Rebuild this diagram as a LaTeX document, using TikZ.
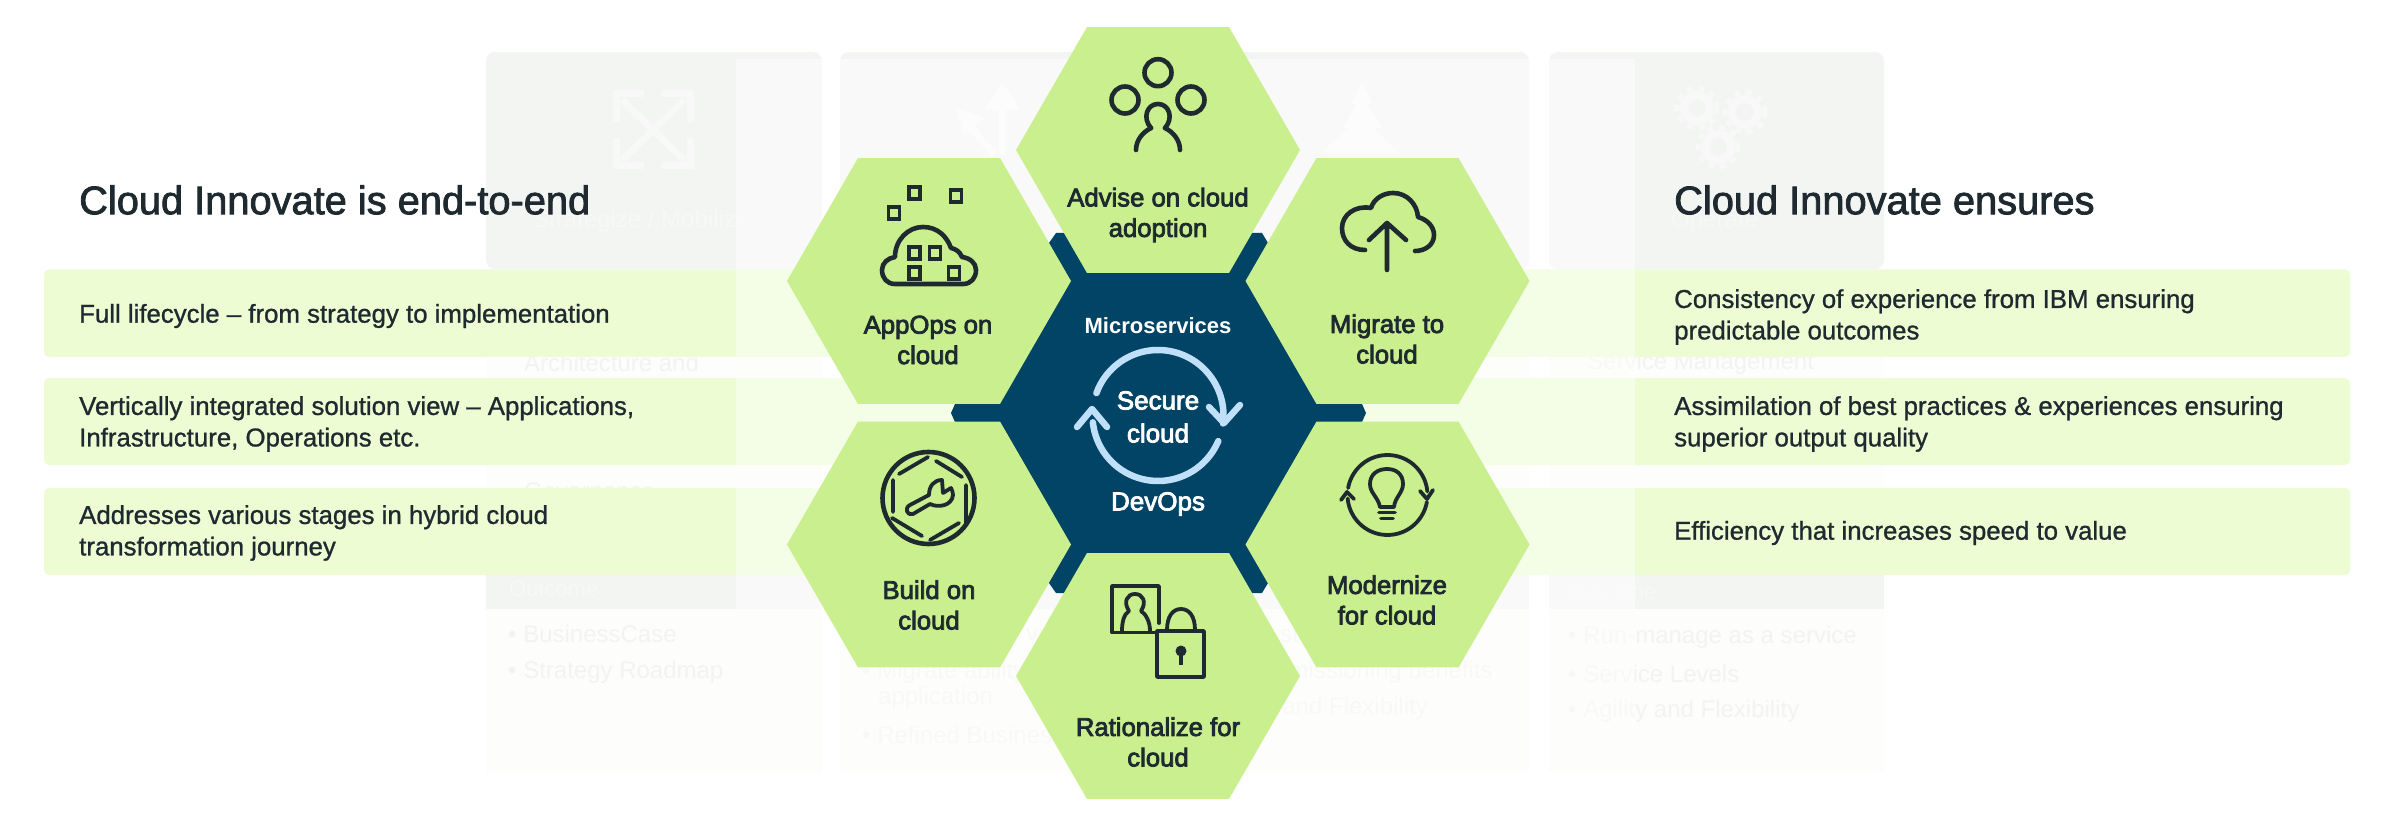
\documentclass[tikz,border=0pt]{standalone}
\usepackage{fontspec}
\usetikzlibrary{shapes.geometric}
\setmainfont{Liberation Sans}
\newfontfamily\medfont[FakeBold=3]{Liberation Sans}
\newfontfamily\titlefont[FakeBold=2]{Liberation Sans}
\newfontfamily\bodyfont[FakeBold=1]{Liberation Sans}
\definecolor{ink}{HTML}{1F2A30}
\definecolor{leaf}{HTML}{C9EF8E}
\definecolor{navy}{HTML}{014465}
\definecolor{sky}{HTML}{BFE0F8}
\definecolor{bandc}{HTML}{EDFCD3}
\definecolor{cardtop}{HTML}{F3F5F3}
\definecolor{cardlow}{HTML}{FDFEFB}
\definecolor{faintc}{HTML}{F3F4F2}
\definecolor{ghost}{HTML}{F7F8F7}
\definecolor{ghostmid}{HTML}{FAFBFA}
\tikzset{
  x=1pt,y=-1pt,
  hexa/.style={regular polygon,regular polygon sides=6,minimum size=284pt,inner sep=0pt,outer sep=0pt,fill=leaf},
  icon/.style={draw=ink,line width=4.6pt,line cap=round,line join=round},
  thinicon/.style={draw=ink,line width=3.8pt,line cap=round,line join=round},
  loopline/.style={draw=sky,line width=6.5pt,line cap=round,line join=round},
  hexlabel/.style={inner sep=0pt,align=center,text=ink,font=\medfont\fontsize{25.7}{30.5}\selectfont},
  corelabel/.style={inner sep=0pt,align=center,text=white,font=\medfont\fontsize{26}{33}\selectfont},
  title/.style={inner sep=0pt,anchor=west,text=ink,font=\titlefont\fontsize{39.8}{44}\selectfont},
  body/.style={inner sep=0pt,anchor=west,align=left,text=ink,font=\bodyfont\fontsize{25.8}{31.5}\selectfont},
  faint/.style={inner sep=0pt,anchor=west,align=left,text=faintc,font=\fontsize{24}{26}\selectfont},
  ghosttext/.style={inner sep=0pt,anchor=west,text=ghost,font=\fontsize{24}{26}\selectfont},
  ghostline/.style={draw=ghost,line width=7pt},
}
\begin{document}
\begin{tikzpicture}
\useasboundingbox (0,0) rectangle (2394,826);
\fill[white] (0,0) rectangle (2394,826);
% background cards
\foreach \xa/\xb in {486/822,840/1175,1194/1529,1549/1884}{
  \fill[cardlow] (\xa,269) rectangle (\xb,773);
  \fill[cardtop,rounded corners=9pt] (\xa,52) rectangle (\xb,269);
  \fill[cardtop] (\xa,575) rectangle (\xb,609);
}
% ghost icons
\draw[ghostline] (622,100)--(684,160) (684,100)--(622,160);
\draw[ghostline,line join=miter] (616,122)--(616,94)--(644,94) (690,122)--(690,94)--(662,94) (616,138)--(616,166)--(644,166) (690,138)--(690,166)--(662,166);
\draw[ghostline,draw=ghostmid] (1002,155)--(1002,95);
\fill[ghostmid] (1002,82)--(1020,110)--(984,110)--cycle;
\draw[ghostline,draw=ghostmid] (995,155)--(965,120);
\fill[ghostmid] (956,108)--(985,118)--(964,136)--cycle;
\fill[ghostmid] (1362,80)--(1372,104)--(1352,104)--cycle (1362,96)--(1382,128)--(1342,128)--cycle (1362,116)--(1400,153)--(1321,153)--cycle;
\foreach \gx/\gy in {1697/108,1745/112,1718/147}{
  \draw[draw=ghost,line width=5pt,dash pattern=on 6pt off 6pt] (\gx,\gy) circle[radius=20pt];
  \draw[draw=ghost,line width=8pt] (\gx,\gy) circle[radius=13pt];
}
% ghost texts
\node[ghosttext] (g1) at (533,221) {Strategize / Mobilize};
\node[ghosttext] (g2) at (1671,222) {Operate};
\node[faint] (g3) at (524,363) {Architecture and};
\node[faint] (g4) at (1587,363) {Service Management};
\node[faint] (g5) at (524,491) {Governance};
\node[ghosttext,font=\fontsize{22}{24}\selectfont] (g6) at (509,589) {Outcome};
\node[ghosttext,font=\fontsize{22}{24}\selectfont] (g7) at (1567,592) {Outcome};
\node[faint] (t1) at (508,634) {\textbullet\ BusinessCase};
\node[faint] (t2) at (508,672) {\textbullet\ Strategy Roadmap};
\node[faint] (t3) at (862,672) {\textbullet\ Migrate ability};
\node[faint] (t4) at (878,698) {application};
\node[faint] (t5) at (862,735) {\textbullet\ Refined Business};
\node[faint] (t6) at (1026,633) {vi};
\node[faint] (t7) at (1280,635) {sto};
\node[faint,anchor=east] (t8) at (1493,672) {Decommissioning benefits};
\node[faint,anchor=east] (t9) at (1428,708) {Agility and Flexibility};
\node[faint] (t10) at (1568,637) {\textbullet\ Run-manage as a service};
\node[faint] (t11) at (1568,674) {\textbullet\ Service Levels};
\node[faint] (t12) at (1568,711) {\textbullet\ Agility and Flexibility};
% bands
\foreach \ya/\yb in {269.5/357,378/465,488/575}{
  \fill[bandc,rounded corners=5pt] (44,\ya) rectangle (2350,\yb);
}
% veil
\fill[white,opacity=.42] (736,59) rectangle (1635,790);
% main texts
\node[title] (ltitle) at (79,200) {Cloud Innovate is end-to-end};
\node[title] (rtitle) at (1674,200) {Cloud Innovate ensures};
\node[body] (l1) at (79,316) {Full lifecycle – from strategy to implementation};
\node[body] (l2) at (79,424) {Vertically integrated solution view – Applications,\\Infrastructure, Operations etc.};
\node[body] (l3) at (79,533) {Addresses various stages in hybrid cloud\\transformation journey};
\node[body] (r1) at (1674,317) {Consistency of experience from IBM ensuring\\predictable outcomes};
\node[body] (r2) at (1674,424) {Assimilation of best practices \& experiences ensuring\\superior output quality};
\node[body] (r3) at (1674,533) {Efficiency that increases speed to value};
% dark core
\fill[navy] (951,413)--(955,404)--(1049,243)--(1056,233)--(1262,233)--(1268,243)--(1362,404)--(1366,413)--(1362,422)--(1268,583)--(1262,593)--(1056,593)--(1049,583)--(955,422)--cycle;
% hexagons
\node[hexa] (advise) at (1158,150) {};
\node[hexa] (appops) at (929,281) {};
\node[hexa] (migrate) at (1387.5,281) {};
\node[hexa] (build) at (929,544.5) {};
\node[hexa] (modern) at (1387.5,544.5) {};
\node[hexa] (rational) at (1158,676) {};
% hex labels
\node[hexlabel] (ladvise) at (1158,215) {Advise on cloud\\adoption};
\node[hexlabel] (lappops) at (928,340) {AppOps on\\cloud};
\node[hexlabel] (lmigrate) at (1387,339) {Migrate to\\cloud};
\node[hexlabel] (lbuild) at (929,605) {Build on\\cloud};
\node[hexlabel] (lmodern) at (1387,600) {Modernize\\for cloud};
\node[hexlabel] (lrational) at (1158,742) {Rationalize for\\cloud};
% core
\node[corelabel,font=\bfseries\fontsize{22}{26}\selectfont] (micro) at (1158,326) {Microservices};
\node[corelabel] (secure) at (1158,417) {Secure\\cloud};
\node[corelabel] (devops) at (1158,504) {DevOps};
\draw[loopline] plot[smooth,domain=160:-7,samples=40] ({1158+65.5*cos(\x)},{415.5-65.5*sin(\x)});
\draw[loopline] (1209,407)--(1224,423)--(1240,405);
\draw[loopline] plot[smooth,domain=-23:-174,samples=40] ({1158+65.5*cos(\x)},{415.5-65.5*sin(\x)});
\draw[loopline] (1077,427)--(1092,409)--(1107,427);
% icon: advise
\draw[icon] (1158,72.7) circle[radius=13.5pt];
\draw[icon] (1125,100) circle[radius=13.5pt];
\draw[icon] (1191,100) circle[radius=13.5pt];
\draw[icon] (1151,128) .. controls (1142,118) and (1147,104) .. (1158,104) .. controls (1169,104) and (1174,118) .. (1165,128);
\draw[icon] (1136,150) .. controls (1136,140) and (1143,132) .. (1151,128) (1180,150) .. controls (1180,140) and (1173,132) .. (1165,128);
% icon: migrate
\draw[icon] (1365,250) .. controls (1350,250) and (1342,240) .. (1342,228) .. controls (1342,215) and (1355,205) .. (1371,208) .. controls (1374,198) and (1384,193) .. (1393,193) .. controls (1407,193) and (1417,204) .. (1418,217) .. controls (1428,220) and (1434,227) .. (1434,235) .. controls (1434,245) and (1425,251) .. (1415,251);
\draw[icon] (1387,270)--(1387,225) (1369,240)--(1387,223)--(1406,240);
% icon: appops
\foreach \sx/\sy in {914.6/193,956/196,894/213,914.6/253,935/253,914.6/273,954/273}{
  \draw[thinicon,line join=miter] (\sx-5.5,\sy-6) rectangle (\sx+5.5,\sy+6);
}
\draw[icon] (895,284) .. controls (887,284) and (882,278) .. (882,270) .. controls (882,263) and (888,258) .. (895,257) .. controls (895,240) and (908,227) .. (923,227) .. controls (938,227) and (947,237) .. (951,248) .. controls (956,249) and (960,252) .. (962,257) .. controls (970,258) and (976,263) .. (976,270) .. controls (976,278) and (971,284) .. (963,284) -- cycle;
% icon: build
\draw[icon] (928.5,498) circle[radius=46pt];
\draw[thinicon] (899,474)--(928,457) (936,461)--(962,477) (966,485)--(966,523) (959,523)--(930,540) (922,536)--(892,518) (893,480)--(893,512);
\draw[thinicon] (942,480) .. controls (934,480) and (929,486) .. (929,495) -- (910,505) .. controls (904,508) and (907,516) .. (913,514) -- (930,504) .. controls (938,508) and (952,506) .. (953,495) .. controls (953,492) and (952,490) .. (951,488) -- (943,493) -- cycle;
% icon: bulb
\draw[thinicon] plot[smooth,domain=170:5,samples=30] ({1387.5+40*cos(\x)},{495-40*sin(\x)});
\draw[thinicon] plot[smooth,domain=-10:-175,samples=30] ({1387.5+40*cos(\x)},{495-40*sin(\x)});
\draw[thinicon] (1420,491)--(1427,499)--(1433,490) (1341,500)--(1347,492)--(1354,499);
\draw[thinicon] (1380,507) .. controls (1378,497) and (1370,493) .. (1370,484) .. controls (1370,474) and (1378,469) .. (1387,469) .. controls (1396,469) and (1403,474) .. (1403,484) .. controls (1403,493) and (1395,497) .. (1394,507) -- cycle;
\draw[thinicon] (1379,512.5)--(1395,512.5) (1381,518.5)--(1393,518.5);
% icon: rationalize
\draw[thinicon] (1159,623)--(1159,586)--(1112,586)--(1112,632.5)--(1157,632.5);
\draw[thinicon] (1157,631)--(1204,631)--(1204,677)--(1157,677)--cycle;
\draw[thinicon] (1167,630) .. controls (1167,616) and (1173,609) .. (1181,609) .. controls (1189,609) and (1195,616) .. (1195,630);
\draw[thinicon] (1122,631) .. controls (1122,622) and (1124,614) .. (1129,611) .. controls (1123,602) and (1127,594) .. (1135,594) .. controls (1143,594) and (1147,602) .. (1141,611) .. controls (1146,614) and (1150,622) .. (1150,631);
\fill[ink] (1181,651) circle[radius=5.5pt];
\draw[ink,line width=3.6pt] (1181,652)--(1181,665);
\end{tikzpicture}
\end{document}
